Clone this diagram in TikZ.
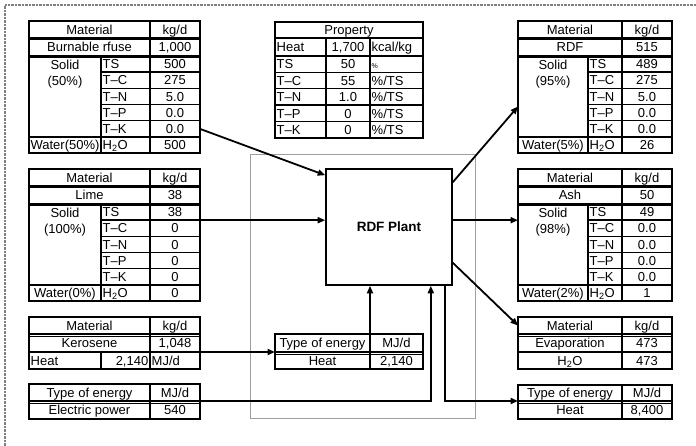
\documentclass[tikz,border=0pt]{standalone}
\usepackage{fontspec}
\setmainfont{Liberation Sans}
\usetikzlibrary{arrows.meta,calc}
\tikzset{
 cellbox/.style={draw, line width=1.4pt, inner sep=0pt, outer sep=0pt, fill=white},
 txt/.style={font=\fontsize{13}{14}\selectfont, inner sep=1.5pt, text height=11pt, text depth=1.7pt},
 soltxt/.style={font=\fontsize{13}{14}\selectfont, inner sep=1.5pt, align=center},
 flow/.style={line width=1.8pt, -{Triangle[length=7.5pt,width=6pt]}},
 dblline/.style={line width=1pt},
 plantbox/.style={draw, line width=1.6pt, minimum width=126pt, minimum height=116pt, inner sep=0pt, font=\bfseries\fontsize{13.5}{15}\selectfont},
 framebox/.style={draw=gray!75, line width=0.9pt},
 dotframe/.style={draw=gray, dash pattern=on 0.7pt off 0.7pt},
}
\newcommand\Cell[7][c]{%
 \node[cellbox, minimum width={(#5-#3)*1pt}, minimum height={(#6-#4)*1pt}] (#2) at ({(#3+#5)/2},{(#4+#6)/2}) {};%
 \if l#1\node[txt, anchor=west] (#2-t) at (#2.west) {#7};%
 \else\if r#1\node[txt, anchor=east] (#2-t) at (#2.east) {#7};%
 \else\if t#1\node[soltxt, anchor=north] (#2-t) at ([yshift=-2pt]#2.north) {#7};%
 \else\node[txt] (#2-t) at (#2.center) {#7};\fi\fi\fi}
% #1 prefix, #2 ytop, #3 material, #4 amount, #5 solid label, #6 element/value list, #7 water label, #8 H2O value
\newcommand\MatTable[8]{%
 \pgfmathsetmacro\yh{#2+17}%
 \pgfmathsetmacro\ym{#2+35}%
 \pgfmathsetmacro\ys{#2+35+5*16.2}%
 \pgfmathsetmacro\yw{\ys+16.2}%
 \Cell{#1-mh}{\xa}{#2}{\xc}{\yh}{Material}
 \Cell{#1-uh}{\xc}{#2}{\xd}{\yh}{kg/d}
 \Cell{#1-mn}{\xa}{\yh}{\xc}{\ym}{#3}
 \Cell{#1-am}{\xc}{\yh}{\xd}{\ym}{#4}
 \Cell[t]{#1-sol}{\xa}{\ym}{\xb}{\ys}{#5}
 \foreach \el/\vv [count=\i] in {#6}{%
   \pgfmathsetmacro\ya{\ym+(\i-1)*16.2}%
   \pgfmathsetmacro\yb{\ym+\i*16.2}%
   \Cell[l]{#1-e\i}{\xb}{\ya}{\xc}{\yb}{\el}
   \Cell{#1-v\i}{\xc}{\ya}{\xd}{\yb}{\vv}
 }
 \Cell{#1-wl}{\xa}{\ys}{\xb}{\yw}{#7}
 \Cell[l]{#1-wh}{\xb}{\ys}{\xc}{\yw}{H\textsubscript{2}O}
 \Cell{#1-wv}{\xc}{\ys}{\xd}{\yw}{#8}
 \draw[dblline] (\xa,{\yh+2}) -- (\xd,{\yh+2});
 \draw[dblline] (\xa,{\ym+1.8}) -- (\xd,{\ym+1.8});
}
\begin{document}
\begin{tikzpicture}[x=1pt,y=-1pt]
\useasboundingbox (0,0) rectangle (696,446);
\fill[white] (0,0) rectangle (696,446);
% outer dotted frame
\draw[dotframe, line width=2.4pt] (5,446) -- (5,5);
\draw[dotframe, line width=1.1pt] (5,5) -- (696,5);
% middle frame
\draw[framebox] (250,154) rectangle (475,418);
% plant
\node[plantbox] (plant) at (389,227) {RDF Plant};

% ---------- left tables
\def\xa{29}\def\xb{101}\def\xc{150}\def\xd{200}
\MatTable{a}{21}{Burnable rfuse}{1,000}{Solid\\[2pt](50\%)}{TS/500,T--C/275,T--N/5.0,T--P/0.0,T--K/0.0}{Water(50\%)}{500}
\MatTable{b}{169}{Lime}{38}{Solid\\[2pt](100\%)}{TS/38,T--C/0,T--N/0,T--P/0,T--K/0}{Water(0\%)}{0}
% kerosene
\Cell{k-mh}{29}{317}{150}{334}{Material}
\Cell{k-uh}{150}{317}{200}{334}{kg/d}
\Cell{k-mn}{29}{334}{150}{352}{Kerosene}
\Cell{k-am}{150}{334}{200}{352}{1,048}
\Cell[l]{k-hl}{29}{352}{101}{369}{Heat}
\Cell[r]{k-hv}{101}{352}{150}{369}{2,140}
\Cell[l]{k-hu}{150}{352}{200}{369}{MJ/d}
\draw[dblline] (29,336) -- (200,336);
% electric
\Cell{e-th}{29}{384}{150}{401}{Type of energy}
\Cell{e-uh}{150}{384}{200}{401}{MJ/d}
\Cell{e-hl}{29}{401}{150}{419}{Electric power}
\Cell{e-vl}{150}{401}{200}{419}{540}
\draw[dblline] (29,403) -- (200,403);

% ---------- property table
\Cell{p-h}{275}{22}{423}{38}{Property}
\Cell[l]{p-1l}{275}{38}{326}{56}{Heat}
\Cell{p-1v}{326}{38}{370}{56}{1,700}
\Cell[l]{p-1u}{370}{38}{423}{56}{kcal/kg}
\foreach \el/\vv/\uu [count=\i] in {TS/50/{\scriptsize\%},T--C/55/{\%/TS},T--N/1.0/{\%/TS},T--P/0/{\%/TS},T--K/0/{\%/TS}}{%
  \pgfmathsetmacro\ya{56+(\i-1)*16.4}%
  \pgfmathsetmacro\yb{56+\i*16.4}%
  \Cell[l]{p-e\i}{275}{\ya}{326}{\yb}{\el}
  \Cell{p-v\i}{326}{\ya}{370}{\yb}{\vv}
  \Cell[l]{p-u\i}{370}{\ya}{423}{\yb}{\uu}
}

% ---------- centre energy table
\Cell{c-th}{275}{334}{370}{352}{Type of energy}
\Cell{c-uh}{370}{334}{423}{352}{MJ/d}
\Cell{c-hl}{275}{352}{370}{369}{Heat}
\Cell{c-hv}{370}{352}{423}{369}{2,140}
\draw[dblline] (275,354) -- (423,354);

% ---------- right tables
\def\xa{518}\def\xb{588}\def\xc{622}\def\xd{672}
\MatTable{r}{21}{RDF}{515}{Solid\\[2pt](95\%)}{TS/489,T--C/275,T--N/5.0,T--P/0.0,T--K/0.0}{Water(5\%)}{26}
\MatTable{s}{169}{Ash}{50}{Solid\\[2pt](98\%)}{TS/49,T--C/0.0,T--N/0.0,T--P/0.0,T--K/0.0}{Water(2\%)}{1}
% evaporation
\Cell{v-mh}{518}{317}{622}{334}{Material}
\Cell{v-uh}{622}{317}{672}{334}{kg/d}
\Cell{v-mn}{518}{334}{622}{352}{Evaporation}
\Cell{v-am}{622}{334}{672}{352}{473}
\Cell{v-hl}{518}{352}{622}{369}{H\textsubscript{2}O}
\Cell{v-hv}{622}{352}{672}{369}{473}
\draw[dblline] (518,336) -- (672,336);
% heat out
\Cell{h-th}{518}{385}{622}{401}{Type of energy}
\Cell{h-uh}{622}{385}{672}{401}{MJ/d}
\Cell{h-hl}{518}{401}{622}{419}{Heat}
\Cell{h-hv}{622}{401}{672}{419}{8,400}
\draw[dblline] (518,403) -- (672,403);

% ---------- connectors
\draw[flow] (a-v5.east) -- ([yshift=-7pt]plant.north west);
\draw[flow] (b-v1.south east) -- (b-v1.south east -| plant.west);
\draw[flow] (k-am.south east) -- (k-am.south east -| c-th.west);
\draw[flow] (c-uh.north west) -- (c-uh.north west |- plant.south);
\draw[flow] (e-vl.north east) -| ([xshift=-22pt]plant.south east);
\draw[flow] ([xshift=-8pt]plant.south east) |- (h-th.south west);
\draw[flow] ([yshift=-14pt]plant.north east) -- ([yshift=-10pt]r-sol.west);
\draw[flow] (plant.east |- s-v1.south) -- (s-sol.west |- s-v1.south);
\draw[flow] ([yshift=23pt]plant.south east) -- (v-mh.west);
\end{tikzpicture}
\end{document}
